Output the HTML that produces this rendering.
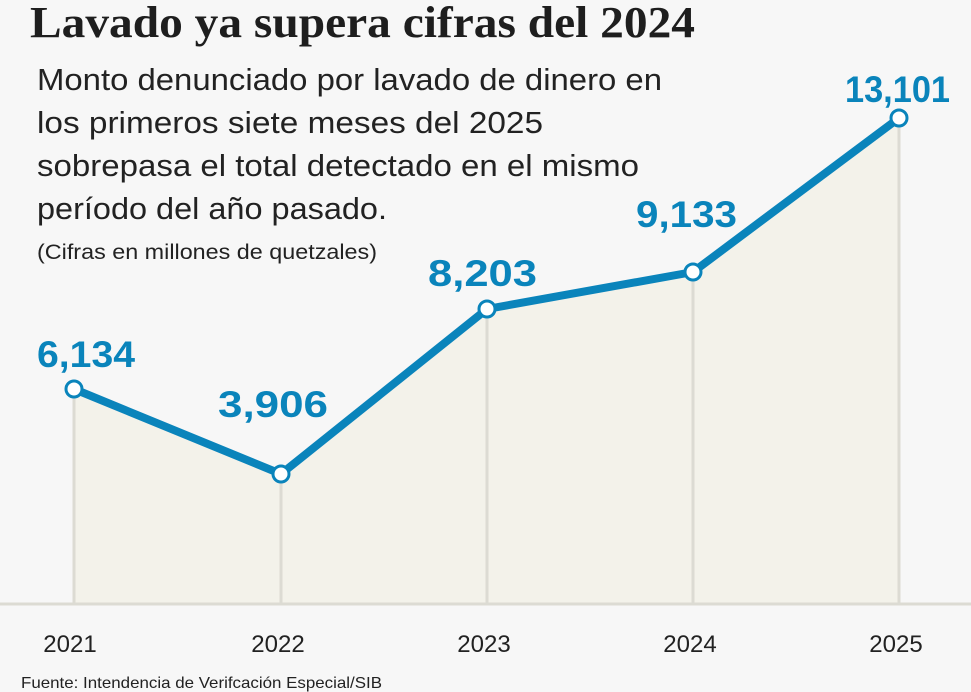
<!DOCTYPE html>
<html><head><meta charset="utf-8"><style>
html,body{margin:0;padding:0;background:#f7f7f7}
svg{display:block}
</style></head><body>
<svg width="971" height="692" viewBox="0 0 971 692" xmlns="http://www.w3.org/2000/svg">
<rect width="971" height="692" fill="#f7f7f7"/>
<polygon points="74,389 281,474 487,309 693,272 899,118 899,603 74,603" fill="#f3f2ea"/>
<g stroke="#dcdbd3" stroke-width="3">
<line x1="74" y1="389" x2="74" y2="603"/>
<line x1="281" y1="474" x2="281" y2="603"/>
<line x1="487" y1="309" x2="487" y2="603"/>
<line x1="693" y1="272" x2="693" y2="603"/>
<line x1="899" y1="118" x2="899" y2="603"/>
<line x1="0" y1="604" x2="971" y2="604"/>
</g>
<polyline points="74,389 281,474 487,309 693,272 899,118" fill="none" stroke="#0a84bb" stroke-width="8" stroke-linejoin="round"/>
<g fill="#fff" stroke="#0a84bb" stroke-width="3">
<circle cx="74" cy="389" r="8"/><circle cx="281" cy="474" r="8"/><circle cx="487" cy="309" r="8"/><circle cx="693" cy="272" r="8"/><circle cx="899" cy="118" r="8"/>
</g>
<text x="30" y="37" font-family="Liberation Serif, serif" font-weight="bold" font-size="44" fill="#1e1e1e" textLength="665" lengthAdjust="spacingAndGlyphs">Lavado ya supera cifras del 2024</text>
<g font-family="Liberation Sans, sans-serif" font-size="31" fill="#222">
<text x="37" y="90" textLength="625" lengthAdjust="spacingAndGlyphs">Monto denunciado por lavado de dinero en</text>
<text x="37" y="133" textLength="506" lengthAdjust="spacingAndGlyphs">los primeros siete meses del 2025</text>
<text x="37" y="176" textLength="602" lengthAdjust="spacingAndGlyphs">sobrepasa el total detectado en el mismo</text>
<text x="37" y="219" textLength="350" lengthAdjust="spacingAndGlyphs">período del año pasado.</text>
</g>
<text x="37" y="259" font-family="Liberation Sans, sans-serif" font-size="21" fill="#222" textLength="340" lengthAdjust="spacingAndGlyphs">(Cifras en millones de quetzales)</text>
<g font-family="Liberation Sans, sans-serif" font-weight="bold" font-size="37" fill="#0a84bb">
<text x="37" y="367" textLength="98" lengthAdjust="spacingAndGlyphs">6,134</text>
<text x="218" y="417" textLength="110" lengthAdjust="spacingAndGlyphs">3,906</text>
<text x="428" y="286" textLength="109" lengthAdjust="spacingAndGlyphs">8,203</text>
<text x="636" y="227" textLength="101" lengthAdjust="spacingAndGlyphs">9,133</text>
<text x="845" y="102" textLength="105" lengthAdjust="spacingAndGlyphs">13,101</text>
</g>
<g font-family="Liberation Sans, sans-serif" font-size="24" fill="#222" text-anchor="middle">
<text x="70" y="652">2021</text><text x="278" y="652">2022</text><text x="484" y="652">2023</text><text x="690" y="652">2024</text><text x="896" y="652">2025</text>
</g>
<text x="21" y="688" font-family="Liberation Sans, sans-serif" font-size="16" fill="#222" textLength="361" lengthAdjust="spacingAndGlyphs">Fuente: Intendencia de Verifcación Especial/SIB</text>
</svg>
</body></html>
